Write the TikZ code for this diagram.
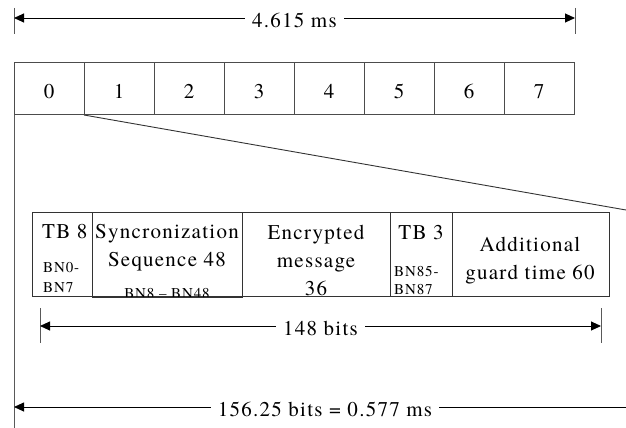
\documentclass[tikz,border=0pt]{standalone}
\usepackage{fontspec}
\setmainfont{texgyretermes-regular.otf}
\usetikzlibrary{arrows.meta}

\newcommand\bigtxt{\fontsize{21}{28}\selectfont\addfontfeature{LetterSpace=6}}
\newcommand\smalltxt{\fontsize{15}{20}\selectfont\addfontfeature{LetterSpace=6}}

\begin{document}
\begin{tikzpicture}[x=1pt,y=-1pt,
  slotbox/.style={draw=black!70, line width=1pt, minimum width=70pt, minimum height=52pt, inner sep=0pt, anchor=north west},
  cellbox/.style={draw=black!80, line width=1pt, minimum height=84pt, inner sep=0pt, anchor=north west},
  tickline/.style={draw=black!65, line width=1pt},
  dimline/.style={line width=0.9pt, {Triangle[length=10pt,width=9pt]}-{Triangle[length=10pt,width=9pt]}},
  dimlabel/.style={fill=white, inner xsep=7pt, inner ysep=1pt, yshift=-2pt, font=\bigtxt},
  txt/.style={font=\bigtxt, inner sep=0pt, anchor=base},
  small/.style={font=\smalltxt, inner sep=0pt, anchor=base west},
]
\useasboundingbox (0,0) rectangle (626,428);
\clip (0,0) rectangle (626,428);

% frame length: 4.615 ms
\coordinate (ftl) at (14,18);
\coordinate (ftr) at (575,18);
\draw[tickline] (14,8) -- (14,34);
\draw[tickline] (575,8) -- (575,34);
\draw[dimline] (ftl) -- (ftr) node[midway, dimlabel] (framelab) {4.615 ms};

% the eight time slots
\foreach \i in {0,...,7} {
  \node[slotbox] (s\i) at ({14+70*\i},62) {};
  \node[txt] (sl\i) at ({49+70*\i},98) {\i};
}

% expansion of slot 0
\coordinate (zoomend) at (626,210);
\coordinate (leftend) at (14,428);
\draw[tickline] (s0.south west) -- (leftend);
\draw[line width=0.9pt, black!80] (s1.south west) -- (zoomend);

% burst fields
\node[cellbox, minimum width=60pt]  (tb8)  at (32,212) {};
\node[cellbox, minimum width=150pt] (sync) at (92,212) {};
\node[cellbox, minimum width=148pt] (enc)  at (242,212) {};
\node[cellbox, minimum width=62pt]  (tb3)  at (390,212) {};
\node[cellbox, minimum width=157pt] (add)  at (452,212) {};

\node[txt, anchor=base west] (tb8a) at (42,238) {TB 8};
\node[small] (tb8b) at (43,272) {BN0-};
\node[small] (tb8c) at (43,292) {BN7};

\node[txt] (synca) at (167,238) {Syncronization};
\node[txt] (syncb) at (167,266) {Sequence 48};
\begin{scope}
  \clip (sync.south west) rectangle (sync.north east);
  \node[font=\smalltxt, inner sep=0pt, anchor=base] (syncc) at (167,298.5) {BN8 – BN48};
\end{scope}
\draw[draw=black!80, line width=1pt] (sync.south west) -- (sync.south east);

\node[txt] (enca) at (316,239) {Encrypted};
\node[txt] (encb) at (316,267) {message};
\node[txt] (encc) at (316,295) {36};

\node[txt] (tb3a) at (421,239) {TB 3};
\node[small] (tb3b) at (394,276) {BN85-};
\node[small] (tb3c) at (394,294) {BN87};

\node[txt] (adda) at (530,251) {Additional};
\node[txt] (addb) at (530,279) {guard time 60};

% burst length: 148 bits
\coordinate (bl) at (40,326);
\coordinate (br) at (601,326);
\draw[tickline] (40,308) -- (40,343);
\draw[tickline] (601,308) -- (601,343);
\draw[dimline] (bl) -- (br) node[midway, dimlabel] (burstlab) {148 bits};

% slot length: 156.25 bits
\coordinate (sl) at (14,407);
\coordinate (sr) at (636,407);
\draw[dimline] (sl) -- (sr) node[midway, dimlabel] (slotlab) {156.25 bits = 0.577 ms};
\end{tikzpicture}
\end{document}
